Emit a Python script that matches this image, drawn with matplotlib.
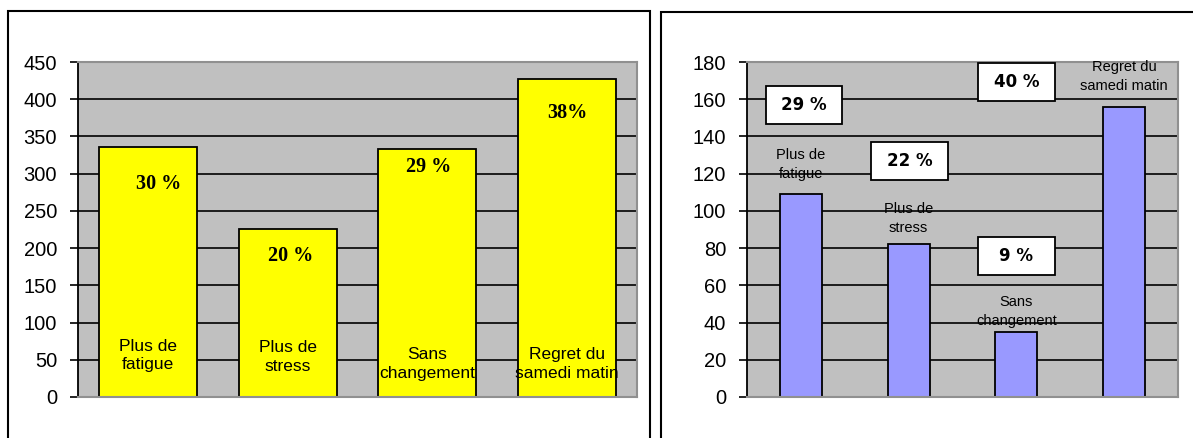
import matplotlib.pyplot as plt
from matplotlib.patches import Rectangle

# Data
categories = ['Plus de\nfatigue', 'Plus de\nstress', 'Sans\nchangement', 'Regret du\nsamedi matin']
left_values = [336, 226, 333, 427]
left_pcts = ['30 %', '20 %', '29 %', '38%']
right_values = [109, 82, 35, 156]
right_pcts = ['29 %', '22 %', '40 %', '9 %']

# label placement (data coords)
left_pct_x = [0.08, 1.02, 2.01, 3.0]
left_pct_y = [286, 190, 309, 382]
left_cat_y = [56, 54, 44, 44]
right_cat_y = [125, 96, 46, 172]
right_box_x = [0.03, 1.01, 2.0, 2.0]
right_box_y = [157, 127, 169, 76]

plt.rcParams['font.family'] = ['Liberation Sans', 'DejaVu Sans']

fig = plt.figure(figsize=(11.93, 4.38), dpi=100)
W, H = 1193, 438

# panel frames
fig.patches.append(Rectangle((8 / W, -0.05), 642 / W, 1.05 - 11 / H, transform=fig.transFigure,
                             fill=False, edgecolor='black', lw=1.5))
fig.patches.append(Rectangle((661 / W, -0.05), 0.5, 1.05 - 12 / H, transform=fig.transFigure,
                             fill=False, edgecolor='black', lw=1.5))

ax1 = fig.add_axes([78 / W, 41 / H, 559 / W, 335 / H])
ax2 = fig.add_axes([747 / W, 41 / H, 431 / W, 335 / H])


def style(ax, ymax, step):
    ax.set_facecolor('#C0C0C0')
    ax.set_xlim(-0.5, 3.5)
    ax.set_ylim(0, ymax)
    ax.set_yticks(range(0, ymax + 1, step))
    ax.set_xticks([])
    ax.grid(axis='y', color='black', lw=1.2)
    ax.set_axisbelow(True)
    for s in ['top', 'right', 'bottom']:
        ax.spines[s].set_color('#909090')
        ax.spines[s].set_linewidth(1.5)
    ax.spines['left'].set_linewidth(1.3)
    ax.tick_params(axis='y', length=6, width=1.2, pad=9, labelsize=14.5, colors='black')


x = range(len(categories))

# left chart
style(ax1, 450, 50)
ax1.bar(x, left_values, width=0.7, color='#FFFF00', edgecolor='black', lw=1.3, zorder=2)
for i in x:
    ax1.text(left_pct_x[i], left_pct_y[i], left_pcts[i], ha='center', va='center',
             family='Liberation Serif', fontweight='bold', fontsize=14.5, zorder=3)
    ax1.text(i, left_cat_y[i], categories[i], ha='center', va='center',
             fontsize=12.5, linespacing=1.3, zorder=3)

# right chart
style(ax2, 180, 20)
ax2.bar(x, right_values, width=0.39, color='#9999FF', edgecolor='black', lw=1.3, zorder=2)
for i in x:
    ax2.text(i, right_cat_y[i], categories[i], ha='center', va='center',
             fontsize=10.5, linespacing=1.45, zorder=3)
    ax2.add_patch(Rectangle((right_box_x[i] - 0.355, right_box_y[i] - 10.2), 0.71, 20.4,
                            facecolor='white', edgecolor='black', lw=1.3, zorder=3))
    ax2.text(right_box_x[i], right_box_y[i], right_pcts[i], ha='center', va='center',
             family='DejaVu Sans', fontweight='heavy', fontsize=12, zorder=4)

fig.savefig('out.png', dpi=100)
